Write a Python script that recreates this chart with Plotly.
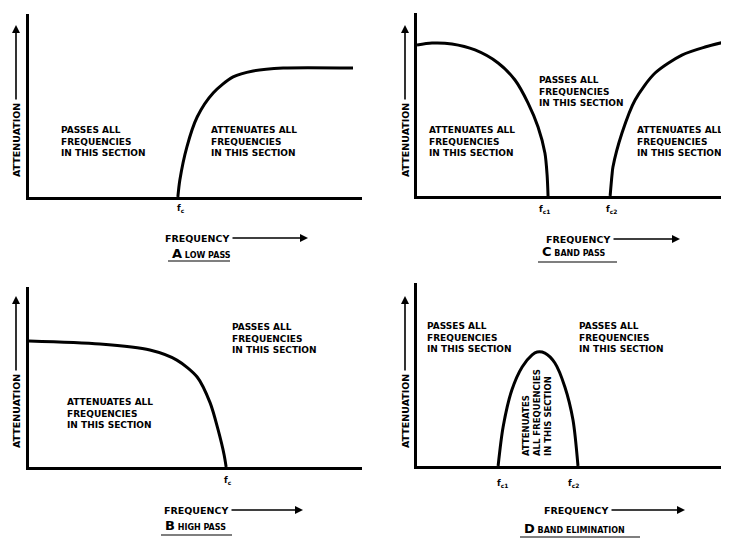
import plotly.graph_objects as go

# the page body keeps its default 8px margin, so the figure is drawn 8px in from the corner
PAGE_W, PAGE_H, OFF = 729, 545, 8
W, H = PAGE_W - OFF, PAGE_H - OFF

# curve values: frequency (0-100) vs attenuation (0-100), arbitrary units
lowpass_f = [44.7, 45.3, 47.4, 50.5, 55.3, 61.3, 67.3, 76.3, 97.3]
lowpass_a = [0, 9.3, 27.3, 43.7, 56.8, 65.6, 68.9, 70.5, 70.5]

bandpass_lo_f = [0, 4.8, 11.2, 18.6, 26.0, 31.4, 35.6, 38.8, 41.0, 41.7, 42.0]
bandpass_lo_a = [82.5, 83.6, 83.1, 79.8, 72.7, 63.4, 50.8, 37.7, 23.5, 11.5, 0]
bandpass_hi_f = [61.9, 62.5, 62.8, 65.7, 69.9, 76.3, 84.9, 92.3, 100]
bandpass_hi_a = [0, 11.5, 15.8, 34.4, 52.5, 67.2, 77.0, 81.4, 84.7]

highpass_f = [0, 21.3, 36.3, 44.4, 50.5, 54.4, 56.8, 58.6, 59.2]
highpass_a = [70, 68.3, 65, 59.4, 50, 35.6, 20.6, 6.7, 0]

bandelim_f = [26.0, 27.6, 30.4, 33.7, 36.9, 38.5, 41.0, 44.2, 47.4, 50.0, 51.6]
bandelim_a = [0, 21.3, 41.5, 54.1, 60.7, 62.3, 61.7, 56.3, 43.2, 25.1, 0]

# cutoff marks
lowpass_fc = [45.5]
bandpass_fc = [41.0, 62.2]
highpass_fc = [59.8]
bandelim_fc = [27.5, 50.0]


def px(x):
    return (x - OFF) / W


def py(y):
    return 1 - (y - OFF) / H


# panel boxes in page pixels: left, right, top, bottom
panels = {
    "A": (29, 362, 14, 197),
    "C": (417, 729, 13, 196),
    "B": (29, 362, 287, 467),
    "D": (417, 729, 283, 466),
}
axis_ids = {"A": "", "C": "2", "B": "3", "D": "4"}

fig = go.Figure()

curves = [
    ("A", lowpass_f, lowpass_a),
    ("C", bandpass_lo_f, bandpass_lo_a),
    ("C", bandpass_hi_f, bandpass_hi_a),
    ("B", highpass_f, highpass_a),
    ("D", bandelim_f, bandelim_a),
]
for p, f, a in curves:
    n = axis_ids[p]
    fig.add_trace(go.Scatter(x=f, y=a, mode="lines",
                             line=dict(color="black", width=3, shape="spline", smoothing=0.8),
                             xaxis="x" + n, yaxis="y" + n, showlegend=False, hoverinfo="skip"))

layout = dict(width=W, height=H, margin=dict(l=0, r=0, t=0, b=0),
              paper_bgcolor="white", plot_bgcolor="white", showlegend=False)
for p, (x0, x1, yt, yb) in panels.items():
    n = axis_ids[p]
    ax = dict(range=[0, 100], showgrid=False, zeroline=False, showticklabels=False,
              ticks="", showline=True, linecolor="black", linewidth=2.8, fixedrange=True)
    layout["xaxis" + n] = dict(ax, domain=[px(x0), min(px(x1), 1)], anchor="y" + n)
    layout["yaxis" + n] = dict(ax, domain=[py(yb), py(yt)], anchor="x" + n)
fig.update_layout(**layout)

font = dict(family="DejaVu Sans", size=9, color="black")
ann = []
shapes = []


def txt(text, x, y, size=9, xanchor="center", **kw):
    ann.append(dict(text=text, x=px(x), y=py(y), xref="paper", yref="paper",
                    xanchor=xanchor, yanchor="middle",
                    showarrow=False, font=dict(font, size=size), **kw))


def label_arrow(text, x, y, xh, yh, size=10, **kw):
    # label centred at (x, y) with an arrow running from it to (xh, yh)
    ann.append(dict(text=text, x=px(xh), y=py(yh), xref="paper", yref="paper",
                    ax=x - xh, ay=y - yh, showarrow=True, arrowhead=2, arrowsize=1,
                    arrowwidth=1.6, arrowcolor="black", standoff=0, startstandoff=2,
                    font=dict(font, size=size), **kw))


PASS = "<b>PASSES ALL<br>FREQUENCIES<br>IN THIS SECTION</b>"
ATT = "<b>ATTENUATES ALL<br>FREQUENCIES<br>IN THIS SECTION</b>"

# y-axis labels with arrows
for x, ytxt, yhead in [(16, 140, 25), (405, 140, 25), (16, 411, 296), (405, 411, 296)]:
    label_arrow("<b>ATTENUATION</b>", x, ytxt, x, yhead, size=9.5, textangle=-90)

# frequency labels with arrows
for x, y, xh in [(197, 238, 308), (578, 239, 680), (196, 510, 303), (576, 510, 685)]:
    label_arrow("<b>FREQUENCY</b>", x, y, xh, y, size=9.5)

# captions with underlines
caps = [("A", "LOW PASS", 170, 253, 230, 261),
        ("C", "BAND PASS", 540, 252, 617, 262),
        ("B", "HIGH PASS", 163, 525, 232, 535),
        ("D", "BAND ELIMINATION", 522, 528, 640, 537)]
for letter, name, x, y, xe, yu in caps:
    txt("<b><span style='font-size:13px'>%s</span> %s</b>" % (letter, name), x, y,
        size=8, xanchor="left")
    shapes.append(dict(type="line", xref="paper", yref="paper", x0=px(x - 2), x1=px(xe),
                       y0=py(yu), y1=py(yu), line=dict(color="black", width=1.2)))

# region texts
txt(PASS, 59, 141, xanchor="left", align="left")
txt(ATT, 209, 141, xanchor="left", align="left")
txt(PASS, 537, 91, xanchor="left", align="left")
txt(ATT, 427, 142, xanchor="left", align="left")
txt(ATT, 635, 142, xanchor="left", align="left")
txt(PASS, 230, 338, xanchor="left", align="left")
txt(ATT, 65, 413, xanchor="left", align="left")
txt(PASS, 425, 337, xanchor="left", align="left")
txt(PASS, 577, 337, xanchor="left", align="left")
txt("<b>ATTENUATES<br>ALL FREQUENCIES<br>IN THIS SECTION</b>", 537, 413,
    size=8.5, textangle=-90, align="left")

# cutoff frequency labels placed on the frequency axes
for p, fcs, y, labels in [("A", lowpass_fc, 208, ["f<sub>c</sub>"]),
                          ("C", bandpass_fc, 210, ["f<sub>c1</sub>", "f<sub>c2</sub>"]),
                          ("B", highpass_fc, 480, ["f<sub>c</sub>"]),
                          ("D", bandelim_fc, 483, ["f<sub>c1</sub>", "f<sub>c2</sub>"])]:
    n = axis_ids[p]
    for f, lab in zip(fcs, labels):
        ann.append(dict(text="<b>%s</b>" % lab, x=f, y=py(y), xref="x" + n, yref="paper",
                        xanchor="center", yanchor="middle",
                        showarrow=False, font=dict(font, size=8.5)))

fig.update_layout(annotations=ann, shapes=shapes)
fig.write_html("out.html")
